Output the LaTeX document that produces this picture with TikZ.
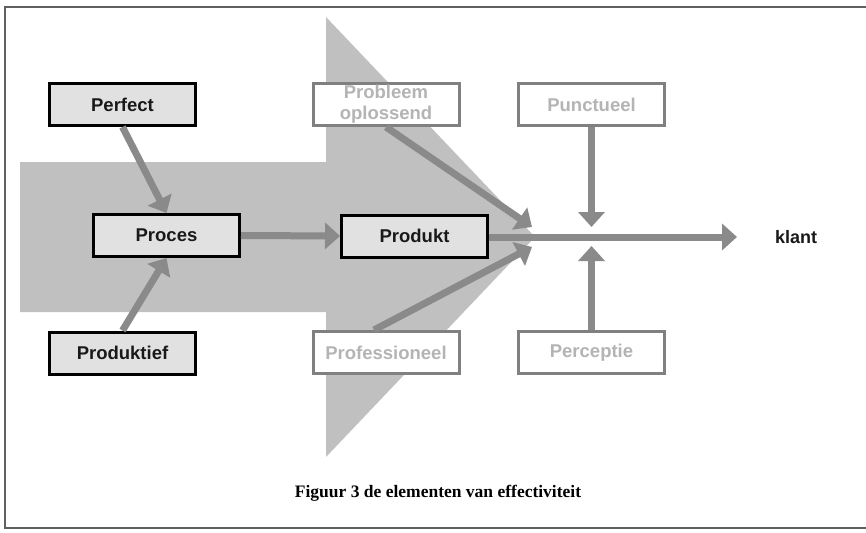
\documentclass[tikz,border=0pt]{standalone}
\usepackage{fontspec}
\setmainfont{Liberation Serif}
\setsansfont{Liberation Sans}
\usetikzlibrary{arrows.meta}
\definecolor{bandgray}{HTML}{C0C0C0}
\definecolor{arrowgray}{HTML}{8A8A8A}
\definecolor{boxfill}{HTML}{E1E1E1}
\definecolor{softborder}{HTML}{808080}
\definecolor{softtext}{HTML}{B4B4B4}
\definecolor{framegray}{HTML}{606060}
\tikzset{
  corebox/.style={draw=black, fill=boxfill, line width=3pt, rectangle,
    minimum width=146pt, minimum height=42pt, inner sep=0pt,
    font=\sffamily\bfseries\fontsize{18.5}{21}\selectfont, text=black!90},
  softbox/.style={draw=softborder, fill=white, line width=3pt, rectangle,
    minimum width=146pt, minimum height=42pt, inner sep=0pt, align=center,
    font=\sffamily\bfseries\fontsize{18.5}{21}\selectfont, text=softtext},
  flow/.style={draw=arrowgray, line width=7pt,
    -{Triangle[width=26pt,length=15pt]}},
}
\begin{document}
\begin{tikzpicture}[x=1pt,y=-1pt]
  \useasboundingbox (0,0) rectangle (866,532);
  \fill[white] (0,0) rectangle (866,532);

  % page frame
  \draw[framegray, line width=2pt] (866,7) -- (5,7) -- (5,528) -- (866,528);

  % wide background arrow
  \fill[bandgray] (20,162) -- (326,162) -- (326,17) -- (535,237)
    -- (326,457) -- (326,312) -- (20,312) -- cycle;

  % boxes
  \node[corebox] (perfect) at (122.5,104.5) {Perfect};
  \node[corebox] (proces) at (166.5,235.5) {Proces};
  \node[corebox] (produkt) at (414.5,236) {Produkt};
  \node[corebox] (produktief) at (122.5,353) {Produktief};
  \node[softbox] (probleem) at (386,104.5) {Probleem\\oplossend};
  \node[softbox] (punctueel) at (591.5,104.5) {Punctueel};
  \node[softbox] (professioneel) at (386,352.5) {Professioneel};
  \node[softbox] (perceptie) at (591.5,352.5) {Perceptie};
  \node[font=\sffamily\bfseries\fontsize{18}{21}\selectfont, text=black!90]
    (klant) at (796,237) {klant};

  % free ends of the connectors
  \coordinate (upin) at (532,227);
  \coordinate (lowin) at (532,247);
  \coordinate (topin) at (591.5,227);
  \coordinate (botin) at (591.5,246);
  \coordinate (out) at (737,237);

  % connectors
  \draw[flow] (perfect.south) -- (proces.north);
  \draw[flow] (produktief.north) -- (proces.south);
  \draw[flow] (proces.east) -- (produkt.west);
  \draw[flow] (probleem.south) -- (upin);
  \draw[flow] ([xshift=-12pt]professioneel.north) -- (lowin);
  \draw[flow] (punctueel.south) -- (topin);
  \draw[flow] (perceptie.north) -- (botin);
  \draw[flow] (produkt.east |- out) -- (out);

  % caption
  \node[font=\rmfamily\bfseries\fontsize{17.5}{20}\selectfont] (caption)
    at (438,493) {Figuur 3 de elementen van effectiviteit};
\end{tikzpicture}
\end{document}
